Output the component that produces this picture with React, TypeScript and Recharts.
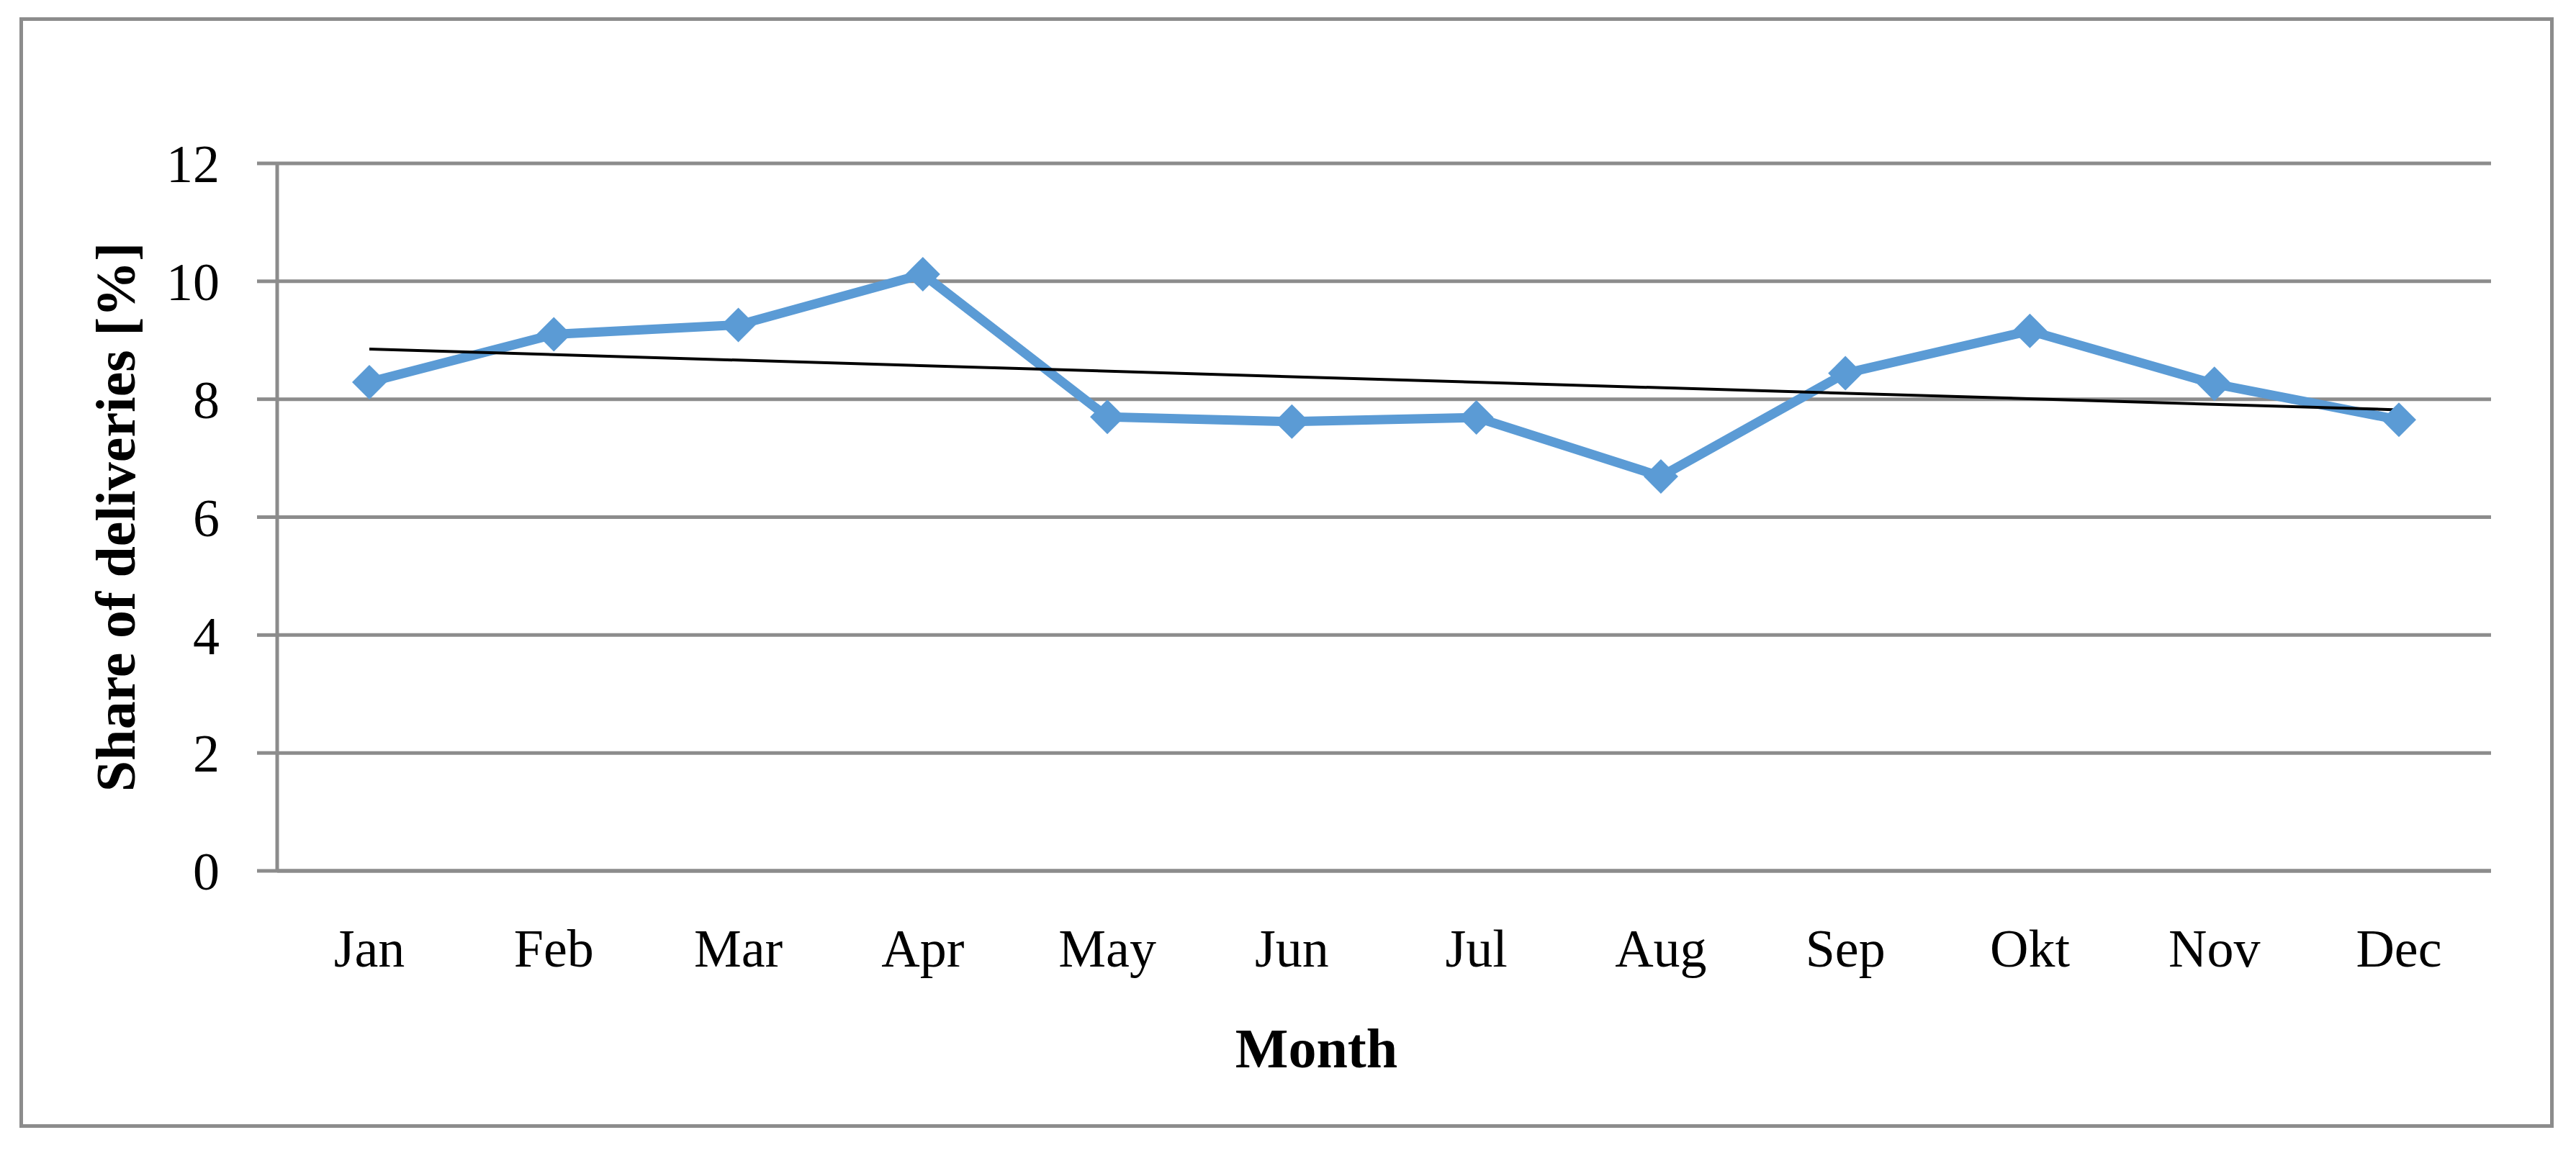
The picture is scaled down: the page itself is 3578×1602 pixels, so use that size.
import {
  LineChart,
  Line,
  XAxis,
  YAxis,
  CartesianGrid,
  ReferenceLine,
  Label,
} from 'recharts';

const MONTHS = ['Jan', 'Feb', 'Mar', 'Apr', 'May', 'Jun', 'Jul', 'Aug', 'Sep', 'Okt', 'Nov', 'Dec'];
const SHARE = [8.29, 9.1, 9.26, 10.12, 7.7, 7.62, 7.69, 6.69, 8.44, 9.16, 8.26, 7.65];
const Y_TICKS = [0, 2, 4, 6, 8, 10, 12];
// linear trend at first and last month
const TREND_ENDS = [8.85, 7.82];

const W = 3578;
const H = 1602;
const GRAY = '#8c8c8c';
const BLUE = '#5b9bd5';
const FONT = "'Liberation Serif', 'Times New Roman', serif";

const data = MONTHS.map((month, i) => ({ month, share: SHARE[i] }));

function Diamond(props: any) {
  const { cx, cy, index } = props;
  if (cx == null || cy == null) return null;
  const r = 24;
  return (
    <path
      key={`d-${index}`}
      d={`M${cx},${cy - r}L${cx + r},${cy}L${cx},${cy + r}L${cx - r},${cy}Z`}
      fill={BLUE}
    />
  );
}

export default function App() {
  return (
    <div style={{ position: 'absolute', left: 0, top: 0, width: W, height: H, background: '#fff' }}>
      <div
        style={{
          position: 'absolute',
          left: 27,
          top: 24,
          width: 3520,
          height: 1543,
          boxSizing: 'border-box',
          border: `5px solid ${GRAY}`,
        }}
      />
      <LineChart
        width={W}
        height={H}
        data={data}
        margin={{ top: 227, right: 118, bottom: 0, left: 0 }}
        style={{ position: 'absolute', left: 0, top: 0 }}
      >
        <CartesianGrid vertical={false} stroke={GRAY} strokeWidth={5} />
        <XAxis
          dataKey="month"
          height={392}
          padding={{ left: 128, right: 128 }}
          axisLine={{ stroke: GRAY, strokeWidth: 5 }}
          tickLine={false}
          tickSize={0}
          tickMargin={80}
          tick={{ fill: '#000', fontSize: 74, fontFamily: FONT }}
        >
          <Label
            content={(p: any) => {
              const vb = p.viewBox;
              const x = vb.x + vb.width / 2 - 94;
              return (
                <text
                  x={x}
                  y={1483}
                  textAnchor="middle"
                  fontFamily={FONT}
                  fontWeight="bold"
                  fontSize={78}
                  fill="#000"
                >
                  Month
                </text>
              );
            }}
          />
        </XAxis>
        <YAxis
          width={385}
          domain={[0, 12]}
          ticks={Y_TICKS}
          interval={0}
          axisLine={{ stroke: GRAY, strokeWidth: 5 }}
          tickLine={{ stroke: GRAY, strokeWidth: 5 }}
          tickSize={28}
          tickMargin={52}
          tick={{ fill: '#000', fontSize: 74, fontFamily: FONT }}
        >
          <Label
            content={(p: any) => {
              const vb = p.viewBox;
              const cy = vb.y + vb.height / 2;
              return (
                <text
                  x={160}
                  y={cy}
                  transform={`rotate(-90, 160, ${cy})`}
                  textAnchor="middle"
                  dominantBaseline="central"
                  fontFamily={FONT}
                  fontWeight="bold"
                  fontSize={78}
                  fill="#000"
                >
                  Share of deliveries [%]
                </text>
              );
            }}
          />
        </YAxis>
        <Line
          type="linear"
          dataKey="share"
          stroke={BLUE}
          strokeWidth={13}
          strokeLinejoin="round"
          dot={Diamond}
          activeDot={false}
          isAnimationActive={false}
        />
        <ReferenceLine
          segment={[
            { x: MONTHS[0], y: TREND_ENDS[0] },
            { x: MONTHS[MONTHS.length - 1], y: TREND_ENDS[1] },
          ]}
          stroke="#000"
          strokeWidth={4}
          ifOverflow="visible"
        />
      </LineChart>
    </div>
  );
}
